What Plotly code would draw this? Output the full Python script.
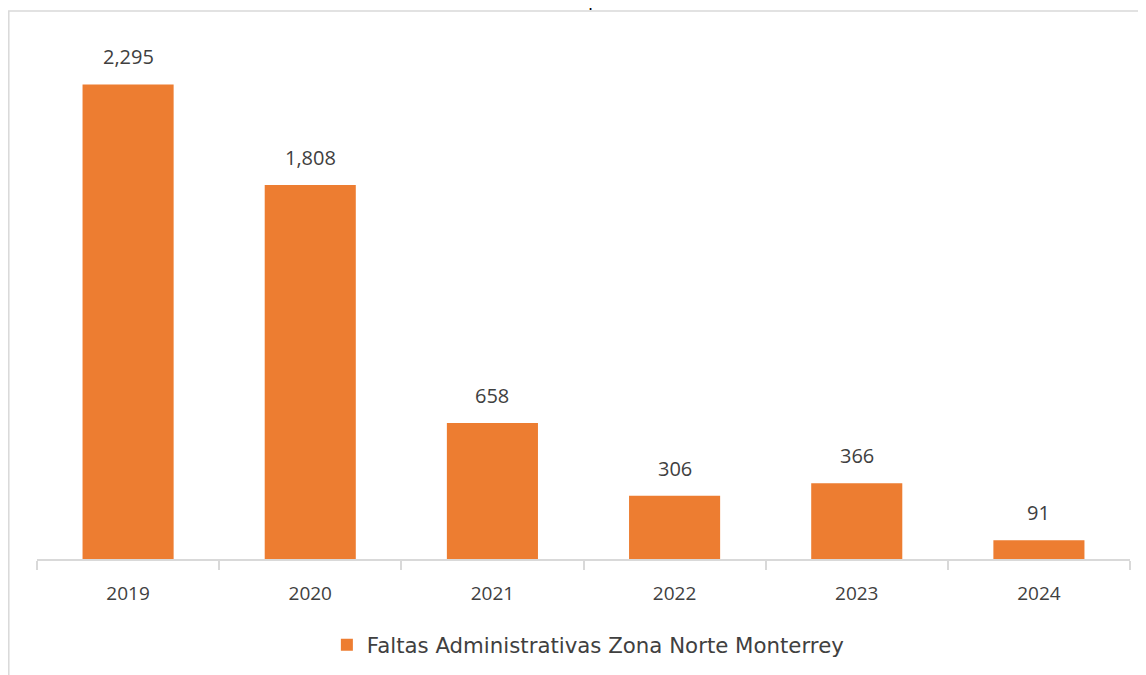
import plotly.graph_objects as go

years = ["2019", "2020", "2021", "2022", "2023", "2024"]
values = [2295, 1808, 658, 306, 366, 91]
labels = ["2,295", "1,808", "658", "306", "366", "91"]
series_name = "Faltas Administrativas Zona Norte Monterrey"

FONT = "Open Sans"
GRAY = "#404040"

fig = go.Figure()
fig.add_trace(go.Bar(
    x=years, y=values, name=series_name,
    marker=dict(color="#ED7D31", line=dict(width=0)),
    showlegend=True,
))

for i, (v, t) in enumerate(zip(values, labels)):
    fig.add_annotation(x=i, y=v, text=t, showarrow=False, xref="x", yref="y",
                       yanchor="bottom", yshift=12,
                       font=dict(family=FONT, size=20, color=GRAY))

# chart frame
fig.add_shape(type="rect", xref="paper", yref="paper",
              x0=-0.0258, x1=1.05, y0=-0.4, y1=1.06,
              line=dict(color="#D9D9D9", width=1.5), fillcolor="rgba(0,0,0,0)", layer="below")

# cut-off title fragment at the very top
fig.add_annotation(xref="paper", yref="paper", x=0.5097, y=1.0, yshift=29,
                   text="p", showarrow=False, yanchor="bottom",
                   font=dict(family=FONT, size=20, color="#000000"))

fig.update_layout(
    width=1146, height=675,
    margin=dict(l=29, r=24, t=34, b=124),
    paper_bgcolor="white", plot_bgcolor="white",
    bargap=0.5,
    font=dict(family=FONT, size=19, color=GRAY),
    xaxis=dict(type="category", categoryorder="array", categoryarray=years,
               range=[-0.5, len(years) - 0.5],
               showline=True, linecolor="#D9D9D9", linewidth=1.5,
               ticks="outside", tickson="boundaries", ticklen=9, tickcolor="#D9D9D9",
               tickwidth=1.5, tickfont=dict(family=FONT, size=19, color=GRAY),
               ticklabelstandoff=16,
               tickangle=0, showgrid=False, zeroline=False),
    yaxis=dict(range=[0, 2500], visible=False, showgrid=False, zeroline=False),
    legend=dict(orientation="h", x=0.504, xanchor="center", y=-0.166, yanchor="middle",
                font=dict(family="DejaVu Sans", size=21.3, color=GRAY), itemwidth=30),
)

fig.write_html("out.html")
